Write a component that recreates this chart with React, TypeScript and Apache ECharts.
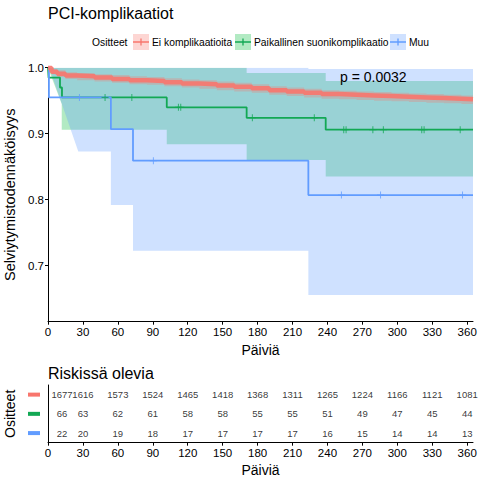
import React, { useEffect, useRef } from "react";
import * as echarts from "echarts";

const FONT = "Liberation Sans, Arial, sans-serif";

const groupNames = ["Ei komplikaatioita", "Paikallinen suonikomplikaatio", "Muu"];
const lineColors = ["#F8766D", "#12A854", "#619CFF"];
const fillColors = ["#F8766D", "#00BA38", "#619CFF"];

// Kaplan–Meier curves (day, survival)
const redTimes = [0, 3, 8, 15, 25, 40, 55, 70, 85, 100, 115, 130, 145, 160, 175, 190, 205, 220, 235, 250, 265, 280, 295, 310, 325, 340, 355, 365];
const redSurv = [1.0, 0.994, 0.991, 0.988, 0.987, 0.985, 0.983, 0.981, 0.98, 0.978, 0.976, 0.975, 0.973, 0.971, 0.969, 0.966, 0.964, 0.962, 0.96, 0.959, 0.958, 0.957, 0.956, 0.955, 0.954, 0.953, 0.952, 0.951];
const redLower = [1.0, 0.99, 0.986, 0.983, 0.981, 0.979, 0.977, 0.975, 0.974, 0.972, 0.97, 0.968, 0.966, 0.964, 0.962, 0.959, 0.957, 0.955, 0.953, 0.952, 0.951, 0.95, 0.949, 0.948, 0.947, 0.946, 0.945, 0.944];
const redUpper = [1.0, 0.998, 0.996, 0.993, 0.992, 0.99, 0.989, 0.987, 0.986, 0.984, 0.982, 0.981, 0.979, 0.977, 0.975, 0.972, 0.97, 0.968, 0.966, 0.965, 0.964, 0.963, 0.962, 0.961, 0.96, 0.959, 0.958, 0.957];

const greenTimes = [0, 0.5, 10.3, 12, 102, 170.6, 238.5, 365];
const greenSurv = [1.0, 0.985, 0.97, 0.955, 0.94, 0.924, 0.906, 0.906];
const greenCensor = [49, 72, 112, 114, 175.5, 228.7, 254, 256, 279, 288, 321, 323, 354];

const blueTimes = [0, 0.8, 54, 73, 223.6, 365];
const blueSurv = [1.0, 0.955, 0.907, 0.859, 0.807, 0.807];
const blueCensor = [27, 90.5, 252, 285.6, 356];

// Confidence band outlines (day, value)
const greenUpperPts = [[0, 1], [170.6, 1], [170.6, 0.992], [238.5, 0.992], [238.5, 0.98], [365, 0.98]];
const greenLowerPts = [[0, 1], [11.8, 0.945], [11.8, 0.906], [102, 0.906], [102, 0.884], [170.6, 0.884], [170.6, 0.86], [238.5, 0.86], [238.5, 0.835], [365, 0.835]];
const blueUpperPts = [[0, 1], [223.6, 1], [223.6, 0.998], [365, 0.998]];
const blueLowerPts = [[0, 1], [1.2, 1], [26, 0.873], [54, 0.873], [54, 0.792], [73, 0.792], [73, 0.7227], [223.6, 0.7227], [223.6, 0.6556], [365, 0.6556]];

// Risk table
const riskTimes = [12, 30, 60, 90, 120, 150, 180, 210, 240, 270, 300, 330, 360];
const riskRed = [1677, 1616, 1573, 1524, 1465, 1418, 1368, 1311, 1265, 1224, 1166, 1121, 1081];
const riskGreen = [66, 63, 62, 61, 58, 58, 55, 55, 51, 49, 47, 45, 44];
const riskBlue = [22, 20, 19, 18, 17, 17, 17, 17, 16, 15, 14, 14, 13];

const yTicks = [0.7, 0.8, 0.9, 1.0];

function rgba(hex: string, a: number) {
  const n = parseInt(hex.slice(1), 16);
  return `rgba(${(n >> 16) & 255},${(n >> 8) & 255},${n & 255},${a})`;
}
function stepPts(times: number[], vals: number[]) {
  const pts: number[][] = [];
  for (let i = 0; i < times.length; i++) {
    if (i > 0) pts.push([times[i], vals[i - 1]]);
    pts.push([times[i], vals[i]]);
  }
  return pts;
}
function survAt(times: number[], vals: number[], t: number) {
  let v = vals[0];
  for (let i = 0; i < times.length; i++) if (times[i] <= t) v = vals[i];
  return v;
}
const PLUS = "path://M4.3,0H5.7V10H4.3Z M0,4.3H10V5.7H0Z";

export default function App() {
  const ref = useRef<HTMLDivElement>(null);
  useEffect(() => {
    document.body.style.margin = "0";
    const chart = echarts.init(ref.current!, null, { renderer: "svg" });

    const band = (upper: number[][], lower: number[][], color: string, z: number) => {
      const poly = upper.concat(lower.slice().reverse());
      return {
        type: "custom",
        xAxisIndex: 0,
        yAxisIndex: 0,
        silent: true,
        clip: true,
        z,
        data: [[0, 1]],
        renderItem: (_p: any, api: any) => ({
          type: "polygon",
          shape: { points: poly.map((p) => api.coord(p)) },
          style: { fill: rgba(color, 0.3) },
        }),
      };
    };
    const km = (times: number[], surv: number[], color: string, w: number, z: number, opacity = 1) => ({
      type: "line",
      xAxisIndex: 0,
      yAxisIndex: 0,
      step: "end",
      showSymbol: false,
      silent: true,
      z,
      data: times.map((t, i) => [t, surv[i]]),
      lineStyle: { color, width: w, opacity },
    });
    const censor = (days: number[], times: number[], surv: number[], color: string) => ({
      type: "scatter",
      xAxisIndex: 0,
      yAxisIndex: 0,
      symbol: PLUS,
      symbolSize: 7,
      silent: true,
      z: 5,
      data: days.map((d) => [d, survAt(times, surv, d)]),
      itemStyle: { color },
    });
    const riskSeries = (counts: number[], row: number) => ({
      type: "scatter",
      xAxisIndex: 1,
      yAxisIndex: 1,
      symbolSize: 0,
      silent: true,
      data: riskTimes.map((t, i) => [t, row, counts[i]]),
      label: {
        show: true,
        position: "inside",
        formatter: (p: any) => String(p.value[2]),
        fontSize: 9.5,
        fontFamily: FONT,
        color: "#000",
      },
    });

    const xAxisBase = (gridIndex: number) => ({
      type: "value",
      gridIndex,
      min: 0,
      max: 365,
      interval: 30,
      axisLine: { show: true, onZero: false, lineStyle: { color: "#000", width: 1 } },
      axisTick: { show: true, length: 3, lineStyle: { color: "#000" } },
      axisLabel: { fontSize: 11.5, fontFamily: FONT, color: "#000", margin: 4, showMaxLabel: false },
      splitLine: { show: false },
      name: "Päiviä",
      nameLocation: "middle",
      nameGap: 20,
      nameTextStyle: { fontSize: 14, fontFamily: FONT, color: "#000" },
    });

    const richBars: any = {};
    lineColors.forEach((c, i) => {
      richBars["b" + i] = { width: 12, height: 4, backgroundColor: c };
    });

    const legendEls: any[] = [];
    const keyX = [133, 235, 390];
    const textX = [152, 254, 409];
    legendEls.push({
      type: "text",
      x: 92,
      y: 42,
      style: { text: "Ositteet", fontSize: 10.3, fontFamily: FONT, fill: "#000", textVerticalAlign: "middle", verticalAlign: "middle" },
    });
    groupNames.forEach((g, i) => {
      legendEls.push({ type: "rect", shape: { x: keyX[i], y: 34, width: 16, height: 16 }, style: { fill: rgba(fillColors[i], 0.3) } });
      legendEls.push({ type: "line", shape: { x1: keyX[i], y1: 42, x2: keyX[i] + 16, y2: 42 }, style: { stroke: lineColors[i], lineWidth: 1.5 } });
      legendEls.push({ type: "line", shape: { x1: keyX[i] + 8, y1: 38.5, x2: keyX[i] + 8, y2: 45.5 }, style: { stroke: lineColors[i], lineWidth: 1.3 } });
      legendEls.push({
        type: "text",
        x: textX[i],
        y: 42,
        style: { text: g, fontSize: 10.3, fontFamily: FONT, fill: "#000", textVerticalAlign: "middle", verticalAlign: "middle" },
      });
    });

    chart.setOption({
      animation: false,
      backgroundColor: "#fff",
      textStyle: { fontFamily: FONT },
      grid: [
        { left: 48, top: 67.7, width: 425, height: 254, containLabel: false, outerBoundsMode: "none" },
        { left: 48, top: 385, width: 425, height: 57.7, containLabel: false, outerBoundsMode: "none" },
      ],
      xAxis: [xAxisBase(0), xAxisBase(1)],
      yAxis: [
        {
          type: "value",
          gridIndex: 0,
          min: 0.615,
          max: 1.0,
          axisLine: { show: true, onZero: false, lineStyle: { color: "#000", width: 1 } },
          axisTick: { show: true, length: 3, customValues: yTicks, lineStyle: { color: "#000" } },
          axisLabel: {
            customValues: yTicks,
            formatter: (v: number) => v.toFixed(1),
            fontSize: 11.5,
            fontFamily: FONT,
            color: "#000",
            margin: 4,
          },
          splitLine: { show: false },
          name: "Selviytymistodennäköisyys",
          nameLocation: "middle",
          nameGap: 27,
          nameRotate: 90,
          nameTextStyle: { fontSize: 14.5, fontFamily: FONT, color: "#000" },
        },
        {
          type: "category",
          gridIndex: 1,
          data: groupNames,
          inverse: true,
          axisLine: { show: true, lineStyle: { color: "#000", width: 1 } },
          axisTick: { show: false },
          axisLabel: { formatter: (_v: string, i: number) => `{b${i}| }`, rich: richBars, margin: 8 },
          splitLine: { show: false },
          name: "Ositteet",
          nameLocation: "middle",
          nameGap: 28,
          nameRotate: 90,
          nameTextStyle: { fontSize: 14, fontFamily: FONT, color: "#000" },
        },
      ],
      graphic: [
        {
          type: "text",
          x: 48,
          y: 13,
          style: { text: "PCI-komplikaatiot", fontSize: 16, fontFamily: FONT, fill: "#000", textVerticalAlign: "middle", verticalAlign: "middle" },
        },
        {
          type: "text",
          x: 48,
          y: 373,
          style: { text: "Riskissä olevia", fontSize: 16, fontFamily: FONT, fill: "#000", textVerticalAlign: "middle", verticalAlign: "middle" },
        },
        {
          type: "text",
          x: 340,
          y: 77,
          z: 100,
          style: { text: "p = 0.0032", fontSize: 14, fontFamily: FONT, fill: "#000", textVerticalAlign: "middle", verticalAlign: "middle" },
        },
        ...legendEls,
      ],
      series: [
        band(greenUpperPts, greenLowerPts, fillColors[1], 1),
        band(blueUpperPts, blueLowerPts, fillColors[2], 2),
        band(stepPts(redTimes, redUpper), stepPts(redTimes, redLower), fillColors[0], 3),
        km(greenTimes, greenSurv, lineColors[1], 1.8, 4),
        km(blueTimes, blueSurv, lineColors[2], 1.8, 4),
        km(redTimes, redSurv, lineColors[0], 4.5, 4, 0.9),
        censor(greenCensor, greenTimes, greenSurv, lineColors[1]),
        censor(blueCensor, blueTimes, blueSurv, lineColors[2]),
        riskSeries(riskRed, 0),
        riskSeries(riskGreen, 1),
        riskSeries(riskBlue, 2),
      ],
    });
    return () => chart.dispose();
  }, []);
  return <div ref={ref} style={{ width: 480, height: 480 }} />;
}
